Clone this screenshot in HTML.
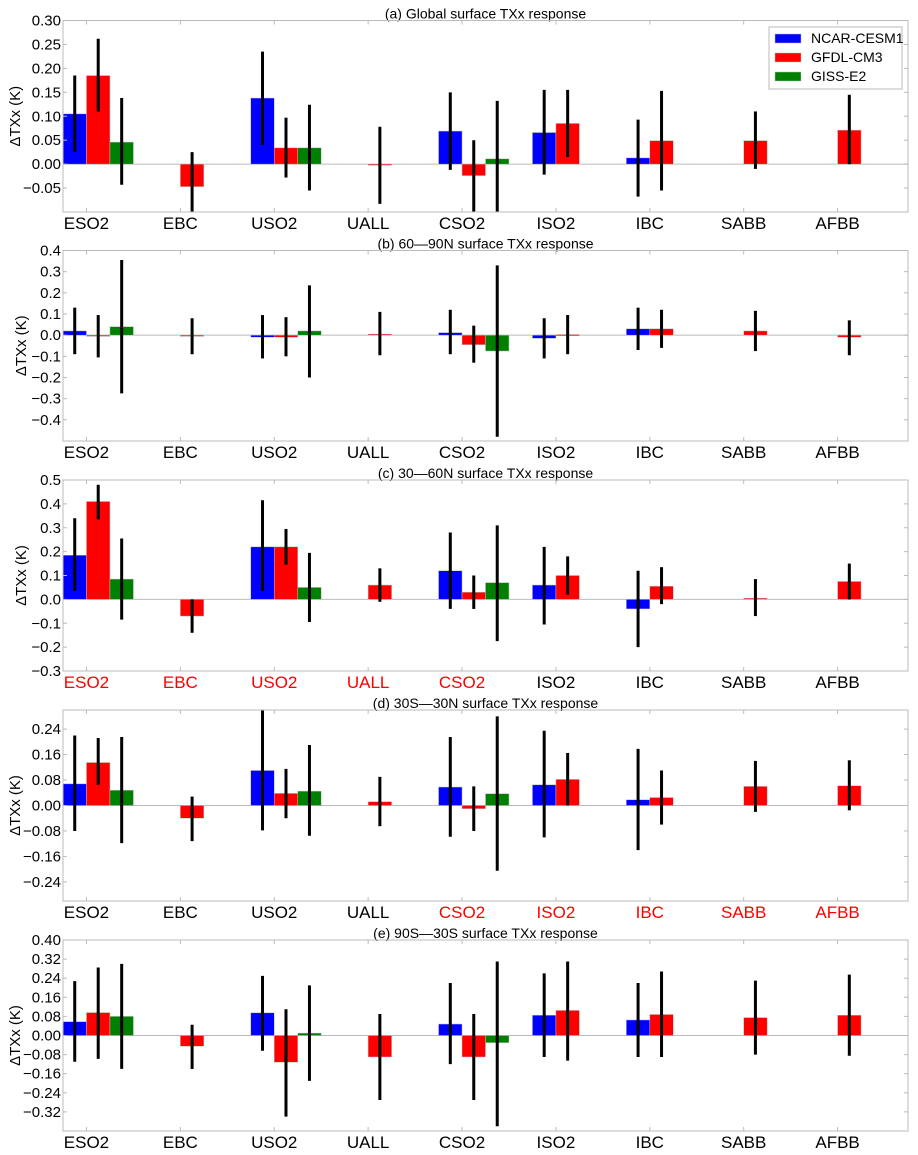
<!DOCTYPE html>
<html><head><meta charset="utf-8"><style>
body{margin:0;background:#fff;}
svg{display:block;font-family:"Liberation Sans","DejaVu Sans",sans-serif;}
</style></head><body>
<svg id="chart" width="918" height="1155" viewBox="0 0 918 1155" xmlns="http://www.w3.org/2000/svg"></svg>
<script>
const categories=["ESO2","EBC","USO2","UALL","CSO2","ISO2","IBC","SABB","AFBB"];
const seriesNames=["NCAR-CESM1","GFDL-CM3","GISS-E2"];
const seriesColors=["#0000ff","#ff0000","#008000"];
const N=null;
// panel a
const aBlue=[0.105,N,0.138,N,0.069,0.066,0.013,N,N];
const aBlueErr=[[0.025,0.185],N,[0.04,0.235],N,[-0.012,0.15],[-0.022,0.155],[-0.068,0.093],N,N];
const aRed=[0.185,-0.047,0.034,-0.001,-0.024,0.085,0.049,0.049,0.071];
const aRedErr=[[0.11,0.262],[-0.11,0.025],[-0.028,0.097],[-0.083,0.078],[-0.11,0.05],[0.015,0.155],[-0.055,0.153],[-0.01,0.11],[0,0.145]];
const aGreen=[0.046,N,0.034,N,0.011,N,N,N,N];
const aGreenErr=[[-0.043,0.138],N,[-0.055,0.124],N,[-0.11,0.132],N,N,N,N];
const aTicks=[0.30,0.25,0.20,0.15,0.10,0.05,0.00,-0.05];
// panel b
const bBlue=[0.02,N,-0.01,N,0.012,-0.015,0.03,N,N];
const bBlueErr=[[-0.09,0.13],N,[-0.11,0.095],N,[-0.09,0.12],[-0.11,0.08],[-0.07,0.13],N,N];
const bRed=[-0.005,-0.005,-0.01,0.005,-0.045,0.003,0.03,0.02,-0.01];
const bRedErr=[[-0.105,0.095],[-0.09,0.08],[-0.1,0.085],[-0.095,0.11],[-0.13,0.045],[-0.09,0.095],[-0.06,0.12],[-0.075,0.115],[-0.095,0.07]];
const bGreen=[0.04,N,0.02,N,-0.075,N,N,N,N];
const bGreenErr=[[-0.275,0.355],N,[-0.2,0.235],N,[-0.48,0.33],N,N,N,N];
const bTicks=[0.4,0.3,0.2,0.1,0.0,-0.1,-0.2,-0.3,-0.4];
// panel c
const cBlue=[0.185,N,0.22,N,0.12,0.06,-0.04,N,N];
const cBlueErr=[[0.035,0.34],N,[0.035,0.415],N,[-0.04,0.28],[-0.105,0.22],[-0.2,0.12],N,N];
const cRed=[0.41,-0.07,0.22,0.06,0.03,0.1,0.055,0.005,0.075];
const cRedErr=[[0.335,0.48],[-0.14,0],[0.145,0.295],[-0.01,0.13],[-0.04,0.1],[0.02,0.18],[-0.02,0.135],[-0.07,0.085],[0,0.15]];
const cGreen=[0.085,N,0.05,N,0.07,N,N,N,N];
const cGreenErr=[[-0.085,0.255],N,[-0.095,0.195],N,[-0.175,0.31],N,N,N,N];
const cTicks=[0.5,0.4,0.3,0.2,0.1,0.0,-0.1,-0.2,-0.3];
// panel d
const dBlue=[0.068,N,0.11,N,0.058,0.065,0.018,N,N];
const dBlueErr=[[-0.08,0.22],N,[-0.078,0.32],N,[-0.098,0.215],[-0.1,0.235],[-0.14,0.178],N,N];
const dRed=[0.135,-0.04,0.038,0.012,-0.01,0.082,0.025,0.06,0.062];
const dRedErr=[[0.065,0.212],[-0.112,0.028],[-0.04,0.115],[-0.065,0.09],[-0.08,0.06],[0,0.165],[-0.06,0.11],[-0.02,0.14],[-0.015,0.142]];
const dGreen=[0.048,N,0.045,N,0.037,N,N,N,N];
const dGreenErr=[[-0.118,0.215],N,[-0.095,0.19],N,[-0.205,0.28],N,N,N,N];
const dTicks=[0.24,0.16,0.08,0.00,-0.08,-0.16,-0.24];
// panel e
const eBlue=[0.058,N,0.095,N,0.048,0.085,0.065,N,N];
const eBlueErr=[[-0.11,0.228],N,[-0.064,0.25],N,[-0.12,0.22],[-0.09,0.26],[-0.09,0.22],N,N];
const eRed=[0.096,-0.045,-0.112,-0.09,-0.09,0.105,0.088,0.075,0.085];
const eRedErr=[[-0.098,0.285],[-0.14,0.045],[-0.34,0.11],[-0.27,0.09],[-0.27,0.09],[-0.105,0.31],[-0.09,0.268],[-0.08,0.23],[-0.085,0.255]];
const eGreen=[0.08,N,0.01,N,-0.03,N,N,N,N];
const eGreenErr=[[-0.14,0.3],N,[-0.19,0.21],N,[-0.38,0.31],N,N,N,N];
const eTicks=[0.40,0.32,0.24,0.16,0.08,0.00,-0.08,-0.16,-0.24,-0.32];

const panels=[
 {id:"a",title:"(a) Global surface TXx response",top:20.5,bottom:212,ymin:-0.10,ymax:0.30,dec:2,ticks:aTicks,vals:[aBlue,aRed,aGreen],errs:[aBlueErr,aRedErr,aGreenErr],red:[]},
 {id:"b",title:"(b) 60\u201490N surface TXx response",top:250.5,bottom:441,ymin:-0.5,ymax:0.4,dec:1,ticks:bTicks,vals:[bBlue,bRed,bGreen],errs:[bBlueErr,bRedErr,bGreenErr],red:[]},
 {id:"c",title:"(c) 30\u201460N surface TXx response",top:480,bottom:671,ymin:-0.3,ymax:0.5,dec:1,ticks:cTicks,vals:[cBlue,cRed,cGreen],errs:[cBlueErr,cRedErr,cGreenErr],red:[0,1,2,3,4]},
 {id:"d",title:"(d) 30S\u201430N surface TXx response",top:710,bottom:901,ymin:-0.30,ymax:0.30,dec:2,ticks:dTicks,vals:[dBlue,dRed,dGreen],errs:[dBlueErr,dRedErr,dGreenErr],red:[4,5,6,7,8]},
 {id:"e",title:"(e) 90S\u201430S surface TXx response",top:940,bottom:1131,ymin:-0.40,ymax:0.40,dec:2,ticks:eTicks,vals:[eBlue,eRed,eGreen],errs:[eBlueErr,eRedErr,eGreenErr],red:[]}
];
const svg=document.getElementById('chart');
const NS="http://www.w3.org/2000/svg";
function mk(tag,attrs,parent){const e=document.createElementNS(NS,tag);for(const k in attrs)e.setAttribute(k,attrs[k]);(parent||svg).appendChild(e);return e;}
const L=63,R=908,W=(R-L)/categories.length;
function xs(v){return L+v*W;}
function fmt(v,d){const s=Math.abs(v).toFixed(d);return (v<-1e-9?"\u2212":"")+s;}
const defs=mk('defs',{});
panels.forEach((p,pi)=>{
  const g=mk('g',{});
  
  
  const ys=v=>p.bottom-(v-p.ymin)/(p.ymax-p.ymin)*(p.bottom-p.top);
  const cp=mk('clipPath',{id:'clip'+p.id},defs);
  mk('rect',{x:L,y:p.top,width:R-L,height:p.bottom-p.top},cp);
  const t=mk('text',{x:(L+R)/2,y:p.top-2,'text-anchor':'middle','font-size':14,fill:'#000'},g);
  t.textContent=p.title;
  
  
  const plot=mk('g',{'clip-path':'url(#clip'+p.id+')'},g);
  mk('line',{x1:L,x2:R,y1:ys(0),y2:ys(0),stroke:'#bbb','stroke-width':1},plot);
  p.vals.forEach((arr,si)=>{
    arr.forEach((v,ci)=>{
      if(v===null)return;
      const x0=xs(ci+si*0.25),x1=xs(ci+si*0.25+0.25);
      const y0=ys(Math.max(v,0)),y1=ys(Math.min(v,0));
      const b=mk('rect',{x:x0,y:y0,width:x1-x0,height:Math.max(y1-y0,1.2),fill:seriesColors[si],stroke:'#bbb','stroke-width':0.5},plot);
      
      
    });
  });
  p.errs.forEach((arr,si)=>{
    arr.forEach((e,ci)=>{
      if(!e)return;
      const xc=xs(ci+si*0.25+0.125);
      const l=mk('line',{x1:xc,x2:xc,y1:ys(e[0]),y2:ys(e[1]),stroke:'#000','stroke-width':3},plot);
      
      
    });
  });
  mk('rect',{x:L,y:p.top,width:R-L,height:p.bottom-p.top,fill:'none',stroke:'#bbb','stroke-width':1},g);
  p.ticks.forEach(tv=>{
    const y=ys(tv);
    mk('line',{x1:L,x2:L+4,y1:y,y2:y,stroke:'#bbb'},g);
    mk('line',{x1:R,x2:R-4,y1:y,y2:y,stroke:'#bbb'},g);
    const tl=mk('text',{x:L-2,y:y+5,'text-anchor':'end','font-size':15,fill:'#000'},g);
    tl.textContent=fmt(tv,p.dec);
    
    
  });
  categories.forEach((c,ci)=>{
    const x=xs(ci+0.25);
    mk('line',{x1:x,x2:x,y1:p.bottom,y2:p.bottom-4,stroke:'#bbb'},g);
    mk('line',{x1:x,x2:x,y1:p.top,y2:p.top+4,stroke:'#bbb'},g);
    const xl=mk('text',{x:x,y:p.bottom+17,'text-anchor':'middle','font-size':17,fill:p.red.includes(ci)?'#ff0000':'#000'},g);
    xl.textContent=c;
    
    
  });
  const ymid=(p.top+p.bottom)/2;
  const yx=p.dec===2?20:26;
  const yl=mk('text',{x:yx,y:ymid,'text-anchor':'middle','font-size':15,fill:'#000',transform:'rotate(-90 '+yx+' '+ymid+')'},g);
  yl.textContent='\u0394TXx (K)';
  
  
});
const lg=mk('g',{});


mk('rect',{x:769,y:27,width:133,height:62,fill:'#fff',stroke:'#bbb','stroke-width':1},lg);
seriesNames.forEach((n,i)=>{
  const y=38+i*19;
  const sw=mk('rect',{x:775,y:y-4,width:26,height:9,fill:seriesColors[i],stroke:'#bbb','stroke-width':0.5},lg);
  
  
  const tx=mk('text',{x:811,y:y+5,'font-size':14,fill:'#000'},lg);
  tx.textContent=n;
  
  
});
</script>
</body></html>
